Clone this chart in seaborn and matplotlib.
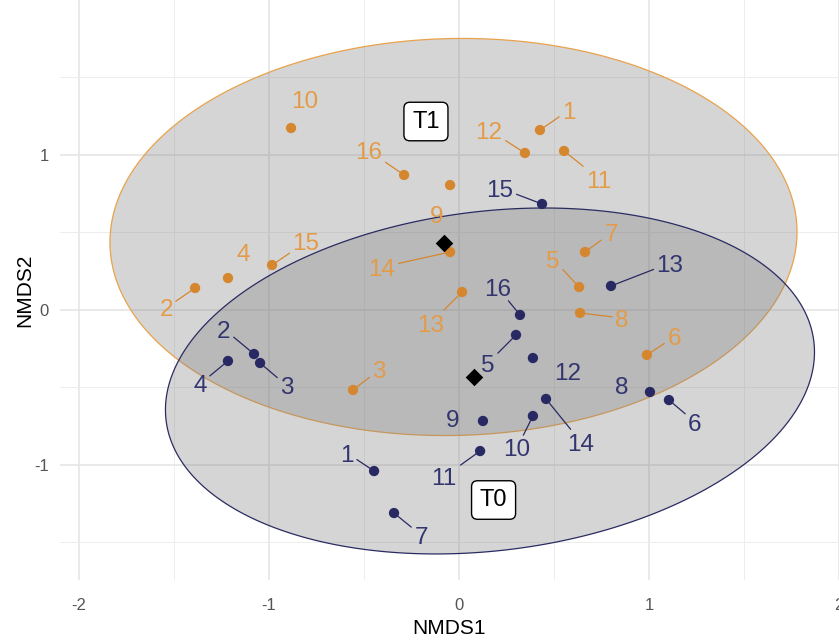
import numpy as np
import pandas as pd
import matplotlib
matplotlib.use("Agg")
import matplotlib.pyplot as plt
import seaborn as sns

# sample ids (same 16 plots sampled at T0 and T1)
sample_id = list(range(1, 17))

# NMDS scores
t0_nmds1 = [-0.447, -1.079, -1.047, -1.216, 0.300, 1.105, -0.342, 1.005,
            0.126, 0.389, 0.111, 0.389, 0.800, 0.458, 0.437, 0.321]
t0_nmds2 = [-1.039, -0.284, -0.342, -0.329, -0.161, -0.581, -1.310, -0.529,
            -0.716, -0.684, -0.910, -0.310, 0.155, -0.574, 0.684, -0.032]
t1_nmds1 = [0.426, -1.389, -0.558, -1.216, 0.632, 0.989, 0.663, 0.637,
            -0.047, -0.884, 0.553, 0.347, 0.016, -0.047, -0.984, -0.289]
t1_nmds2 = [1.161, 0.142, -0.516, 0.206, 0.148, -0.290, 0.374, -0.019,
            0.806, 1.174, 1.026, 1.013, 0.116, 0.374, 0.290, 0.871]

# where the repelled labels ended up
t0_lab1 = [-0.589, -1.237, -0.905, -1.363, 0.153, 1.242, -0.200, 0.858,
           -0.032, 0.305, -0.079, 0.574, 1.111, 0.642, 0.216, 0.205]
t0_lab2 = [-0.923, -0.123, -0.490, -0.477, -0.342, -0.723, -1.452, -0.490,
           -0.703, -0.890, -1.077, -0.400, 0.303, -0.852, 0.787, 0.142]
t1_lab1 = [0.579, -1.542, -0.421, -1.137, 0.495, 1.132, 0.800, 0.858,
           -0.116, -0.811, 0.737, 0.158, -0.147, -0.405, -0.805, -0.474]
t1_lab2 = [1.290, 0.013, -0.387, 0.374, 0.329, -0.174, 0.497, -0.052,
           0.613, 1.355, 0.845, 1.161, -0.084, 0.277, 0.439, 1.026]

# labels that sit next to their point without a leader line
no_segment = {"T0": [8, 9, 12], "T1": [4, 9, 10]}

# group centroids and group tags
groups = ["T1", "T0"]
centroid_nmds1 = [-0.079, 0.079]
centroid_nmds2 = [0.432, -0.432]
tag_nmds1 = [-0.174, 0.182]
tag_nmds2 = [1.216, -1.226]

# 95% ellipses: centre, half-extent along each axis, covariance term
ell_cx = [-0.029, 0.163]
ell_cy = [0.471, -0.458]
ell_sx = [1.808, 1.708]
ell_sy = [1.281, 1.116]
ell_cov = [0.06, 0.318]

point_colors = {"T1": "#D5872F", "T0": "#282963"}
text_colors = {"T1": "#E39B48", "T0": "#33356F"}
edge_colors = {"T1": "#E9A24C", "T0": "#2A2B62"}

df = pd.DataFrame({
    "id": sample_id * 2,
    "Time": ["T0"] * 16 + ["T1"] * 16,
    "NMDS1": t0_nmds1 + t1_nmds1,
    "NMDS2": t0_nmds2 + t1_nmds2,
    "lab1": t0_lab1 + t1_lab1,
    "lab2": t0_lab2 + t1_lab2,
})
cent = pd.DataFrame({"Time": groups, "NMDS1": centroid_nmds1, "NMDS2": centroid_nmds2})

sns.set_theme(style="whitegrid")
plt.rcParams["font.family"] = ["Liberation Sans", "DejaVu Sans"]
plt.rcParams["axes.unicode_minus"] = False

fig = plt.figure(figsize=(8.39, 6.44), dpi=100)
ax = fig.add_axes([60 / 839, 64 / 644, 779 / 839, 580 / 644])
ax.set_xlim(-2.1, 2.0)
ax.set_ylim(-1.742, 2.0)

# ellipses
theta = np.linspace(0, 2 * np.pi, 300)
for i, g in enumerate(groups):
    sigma = np.array([[ell_sx[i] ** 2, ell_cov[i]], [ell_cov[i], ell_sy[i] ** 2]])
    L = np.linalg.cholesky(sigma)
    pts = (L @ np.vstack([np.cos(theta), np.sin(theta)])).T
    ax.fill(ell_cx[i] + pts[:, 0], ell_cy[i] + pts[:, 1],
            facecolor=(0.5, 0.5, 0.5, 0.33), edgecolor=edge_colors[g], lw=0.9, zorder=2)

# points
sns.scatterplot(data=df, x="NMDS1", y="NMDS2", hue="Time", palette=point_colors,
                s=55, linewidth=0, legend=False, ax=ax, zorder=4)

# labels + leader lines (worked out in pixels, like ggrepel)
fs = 17.5
em = fs * 100 / 72
to_px = ax.transData
to_data = ax.transData.inverted()
for _, r in df.iterrows():
    c = text_colors[r["Time"]]
    txt = str(r["id"])
    ax.text(r["lab1"], r["lab2"], txt, color=c, fontsize=fs,
            ha="center", va="center_baseline", zorder=4)
    if r["id"] in no_segment[r["Time"]]:
        continue
    px, py = to_px.transform((r["NMDS1"], r["NMDS2"]))
    lx, ly = to_px.transform((r["lab1"], r["lab2"]))
    hw = 0.5 * 0.556 * em * len(txt) + 3
    hh = 0.5 * 0.72 * em + 4
    dx, dy = px - lx, py - ly
    t = min(hw / abs(dx) if dx else np.inf, hh / abs(dy) if dy else np.inf)
    if t >= 1:
        continue
    ex, ey = to_data.transform((lx + t * dx, ly + t * dy))
    ax.plot([r["NMDS1"], ex], [r["NMDS2"], ey], color=point_colors[r["Time"]],
            lw=0.9, zorder=3)

# centroids
sns.scatterplot(data=cent, x="NMDS1", y="NMDS2", color="black", marker="D",
                s=80, linewidth=0, legend=False, ax=ax, zorder=5)

for i, g in enumerate(groups):
    ax.text(tag_nmds1[i], tag_nmds2[i], g, fontsize=17, color="black",
            ha="center", va="center", zorder=6,
            bbox=dict(boxstyle="round,pad=0.35,rounding_size=0.25",
                      fc="white", ec="black", lw=1))

# theme_minimal look
ax.set_xticks([-2, -1, 0, 1, 2])
ax.set_yticks([-1, 0, 1])
ax.set_xticks([-1.5, -0.5, 0.5, 1.5], minor=True)
ax.set_yticks([-1.5, -0.5, 0.5, 1.5], minor=True)
ax.grid(which="major", color="#E3E3E3", lw=1.1)
ax.grid(which="minor", color="#EDEDED", lw=0.7)
ax.set_facecolor("white")
for s in ax.spines.values():
    s.set_visible(False)
ax.tick_params(axis="both", which="both", length=0, colors="#555555", labelsize=12)
ax.tick_params(axis="x", pad=13)
ax.tick_params(axis="y", pad=8)
ax.set_xlabel("NMDS1", fontsize=15, color="black", labelpad=4)
ax.set_ylabel("NMDS2", fontsize=15, color="black", labelpad=0)

fig.savefig("out.png", dpi=100)
